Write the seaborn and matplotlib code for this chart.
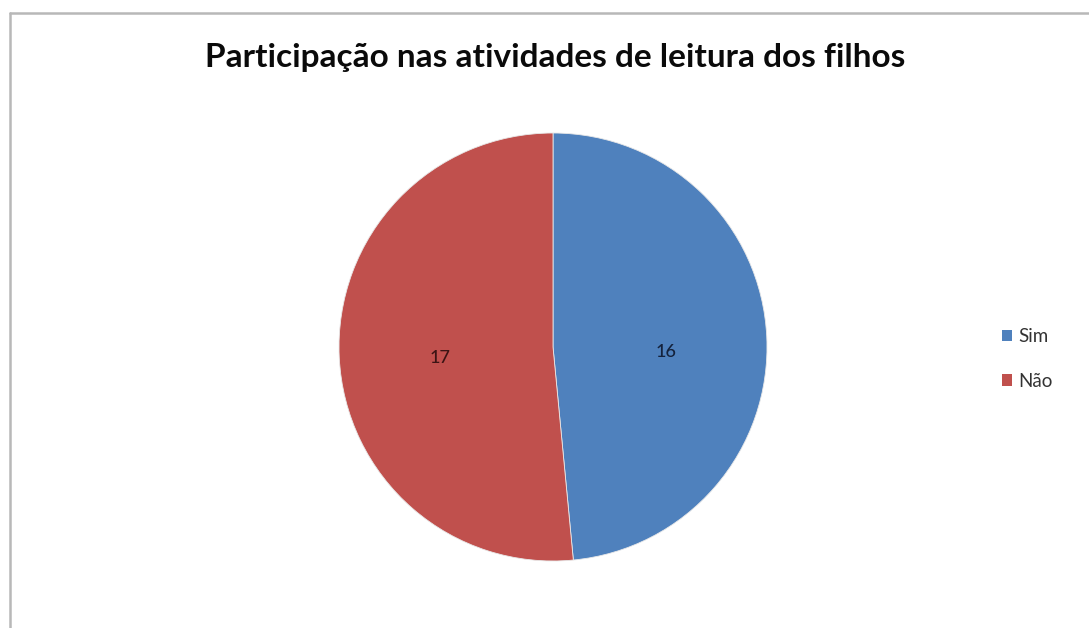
import matplotlib
matplotlib.use("Agg")
import matplotlib.pyplot as plt
from matplotlib.lines import Line2D
from matplotlib.patches import Patch
import seaborn as sns

# Survey answers: parents taking part in their children's reading activities
categories = ["Sim", "Não"]
counts = [16, 17]
title = "Participação nas atividades de leitura dos filhos"

sns.set_theme(style="white")
plt.rcParams["font.family"] = ["Lato", "DejaVu Sans"]

colors = ["#4F81BD", "#C0504D"]
label_colors = ["#14223c", "#3c1414"]

W, H = 1089, 628
fig = plt.figure(figsize=(W / 100, H / 100), dpi=100)
fig.patch.set_facecolor("white")

# chart frame (left and top edges)
frame_kw = dict(color="#b8b8b8", linewidth=1.8, transform=fig.transFigure)
fig.add_artist(Line2D([10 / W, 1.0], [1 - 13 / H, 1 - 13 / H], **frame_kw))
fig.add_artist(Line2D([10 / W, 10 / W], [1 - 13 / H, 0.0], **frame_kw))

cx, cy, r = 553, 347, 214
ax = fig.add_axes([(cx - r) / W, (H - cy - r) / H, 2 * r / W, 2 * r / H])
wedges, texts = ax.pie(
    counts,
    colors=colors,
    startangle=90,
    counterclock=False,
    labels=[str(c) for c in counts],
    labeldistance=0.53,
    wedgeprops=dict(linewidth=0.6, edgecolor="#e8e8e8"),
    textprops=dict(fontsize=13, fontweight="medium"),
)
# data labels sit a little below the wedge bisector
for t, c in zip(texts, label_colors):
    x, y = t.get_position()
    t.set_position((x, min(y, 0.0) - 0.025))
    t.set_color(c)
    t.set_ha("center")
    t.set_va("center")
ax.set_xlim(-1, 1)
ax.set_ylim(-1, 1)
ax.set_aspect("equal")
ax.axis("off")

fig.text(555 / W, 1 - 58 / H, title, ha="center", va="center",
         fontsize=24, fontweight="bold", color="#0a0a0a")

handles = [Patch(facecolor=c, edgecolor="none") for c in colors]
fig.legend(handles, categories, loc="center left",
           bbox_to_anchor=(985 / W, 1 - 359 / H),
           frameon=False, fontsize=13.5, labelspacing=1.45,
           handlelength=0.55, handleheight=0.55, handletextpad=0.35,
           labelcolor="#333333")

fig.savefig("out.png", dpi=100, facecolor="white")
